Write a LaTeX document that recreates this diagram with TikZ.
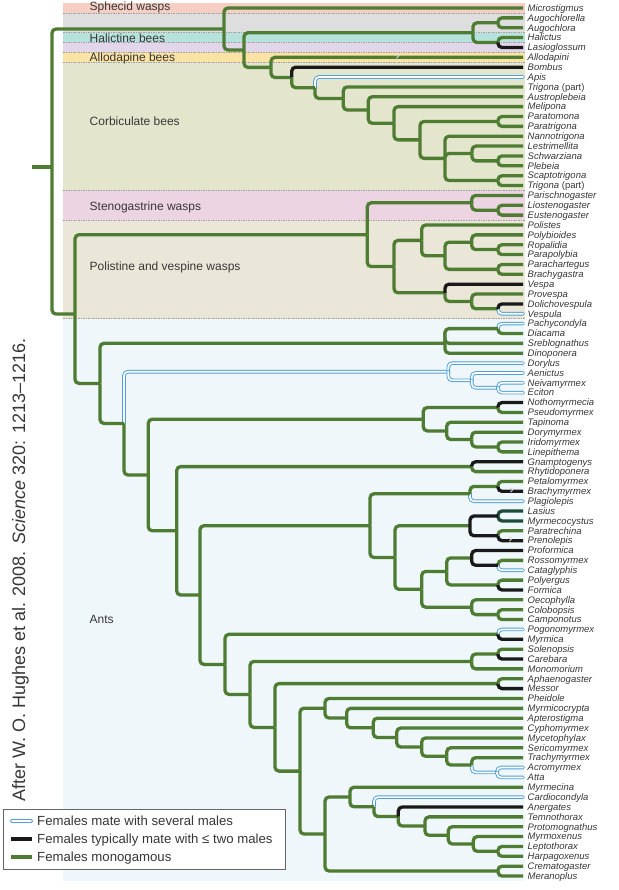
\documentclass[tikz,border=0pt]{standalone}
\usepackage{fontspec}
\setmainfont{Liberation Sans}
\definecolor{grn}{RGB}{78,124,50}
\definecolor{blk}{RGB}{25,25,25}
\definecolor{dgrn}{RGB}{30,75,55}
\definecolor{blu}{RGB}{80,160,215}
\definecolor{txt}{RGB}{55,55,55}
\definecolor{bSph}{RGB}{247,206,196}
\definecolor{bGry}{RGB}{222,222,222}
\definecolor{bHal}{RGB}{182,226,220}
\definecolor{bPur}{RGB}{226,214,234}
\definecolor{bAll}{RGB}{251,226,165}
\definecolor{bCor}{RGB}{227,230,204}
\definecolor{bSte}{RGB}{236,212,226}
\definecolor{bPol}{RGB}{235,231,216}
\definecolor{bAnt}{RGB}{239,247,251}
\begin{document}
\begin{tikzpicture}[x=1pt,y=-1pt,
  br/.style={line width=3.3pt, rounded corners=4pt},
  gb/.style={br, draw=grn},
  kb/.style={br, draw=blk},
  db/.style={br, draw=dgrn},
  ub/.style={draw=blu, line width=0.95pt, double=white, double distance=1.7pt, rounded corners=4pt, line cap=round},
  leaf/.style={anchor=base west, inner sep=0pt, text=txt, font=\fontsize{9.5}{10}\selectfont\itshape},
  grp/.style={anchor=base west, inner sep=0pt, text=txt, font=\fontsize{12}{14}\selectfont},
  sepline/.style={draw=gray!75, dash pattern=on 1.5pt off 1pt, line width=0.55pt},
  qm/.style={inner sep=0pt, text=gray!25, font=\fontsize{9}{9}\selectfont\bfseries},
  legtext/.style={anchor=base west, inner sep=0pt, text=txt, font=\fontsize{13.2}{15}\selectfont},
]
\useasboundingbox (0,0) rectangle (618,890);
% background bands
\fill[bSph] (63,3.07) rectangle (525,12.95);
\fill[bGry] (63,12.95) rectangle (525,32.6);
\fill[bHal] (63,32.6) rectangle (525,42.5);
\fill[bPur] (63,42.5) rectangle (525,52.4);
\fill[bAll] (63,52.4) rectangle (525,62.2);
\fill[bCor] (63,62.2) rectangle (525,190.5);
\fill[bSte] (63,190.5) rectangle (525,220.0);
\fill[bPol] (63,220.0) rectangle (525,318.7);
\fill[bAnt] (63,318.7) rectangle (525,880.8);
\foreach \yy in {12.95,32.6,42.5,52.4,62.2,190.5,220.0,318.7}
  \draw[sepline] (63,\yy) -- (525,\yy);
% group labels
\node[grp] (gSph) at (89.5,11) {Sphecid wasps};
\node[grp] (gHal) at (89.5,42.5) {Halictine bees};
\node[grp] (gAll) at (89.5,61.3) {Allodapine bees};
\node[grp] (gCor) at (89.5,126) {Corbiculate bees};
\node[grp] (gSte) at (89.5,210.3) {Stenogastrine wasps};
\node[grp] (gPol) at (89.5,270.3) {Polistine and vespine wasps};
\node[grp] (gAnt) at (89.5,623.3) {Ants};
% leaves
\foreach \i/\t in {1/Microstigmus, 2/Augochlorella, 3/Augochlora, 4/Halictus, 5/Lasioglossum, 6/Allodapini, 7/Bombus, 8/Apis, 9/{Trigona \textup{(part)}}, 10/Austroplebeia, 11/Melipona, 12/Paratomona, 13/Paratrigona, 14/Nannotrigona, 15/Lestrimellita, 16/Schwarziana, 17/Plebeia, 18/Scaptotrigona, 19/{Trigona \textup{(part)}}, 20/Parischnogaster, 21/Liostenogaster, 22/Eustenogaster, 23/Polistes, 24/Polybioides, 25/Ropalidia, 26/Parapolybia, 27/Parachartegus, 28/Brachygastra, 29/Vespa, 30/Provespa, 31/Dolichovespula, 32/Vespula, 33/Pachycondyla, 34/Diacama, 35/Sreblognathus, 36/Dinoponera, 37/Dorylus, 38/Aenictus, 39/Neivamyrmex, 40/Eciton, 41/Nothomyrmecia, 42/Pseudomyrmex, 43/Tapinoma, 44/Dorymyrmex, 45/Iridomyrmex, 46/Linepithema, 47/Gnamptogenys, 48/Rhytidoponera, 49/Petalomyrmex, 50/Brachymyrmex, 51/Plagiolepis, 52/Lasius, 53/Myrmecocystus, 54/Paratrechina, 55/Prenolepis, 56/Proformica, 57/Rossomyrmex, 58/Cataglyphis, 59/Polyergus, 60/Formica, 61/Oecophylla, 62/Colobopsis, 63/Camponotus, 64/Pogonomyrmex, 65/Myrmica, 66/Solenopsis, 67/Carebara, 68/Monomorium, 69/Aphaenogaster, 70/Messor, 71/Pheidole, 72/Myrmicocrypta, 73/Apterostigma, 74/Cyphomyrmex, 75/Mycetophylax, 76/Sericomyrmex, 77/Trachymyrmex, 78/Acromyrmex, 79/Atta, 80/Myrmecina, 81/Cardiocondyla, 82/Anergates, 83/Temnothorax, 84/Protomognathus, 85/Myrmoxenus, 86/Leptothorax, 87/Harpagoxenus, 88/Crematogaster, 89/Meranoplus}{
  \pgfmathsetmacro{\yy}{8+(\i-1)*9.864}
  \coordinate (L\i) at (523,\yy);
  \node[leaf] (T\i) at (527.5,\yy+3.3) {\t};
}
% internal nodes
\coordinate (st) at (32,167);
\coordinate (root) at (52,167);
\coordinate (A) at (224,29);
\coordinate (B) at (244,50);
\coordinate (H) at (473,32.7);
\coordinate (Hau) at (498,22.8);
\coordinate (Hhl) at (498,42.5);
\coordinate (C) at (271,67.4);
\coordinate (D) at (291.7,77.5);
\coordinate (E) at (315,87.7);
\coordinate (F) at (343.3,98.5);
\coordinate (G) at (368.3,110);
\coordinate (H2) at (394,123.3);
\coordinate (I) at (420,139.9);
\coordinate (Ptr) at (498,121.5);
\coordinate (J) at (445,158.4);
\coordinate (K) at (472,153.5);
\coordinate (Sp) at (498,160.9);
\coordinate (Sct) at (498,180.6);
\coordinate (W) at (75,314);
\coordinate (V) at (367.3,234.7);
\coordinate (St) at (471.7,202.8);
\coordinate (Lie) at (498,210.2);
\coordinate (PV) at (394,266.6);
\coordinate (Po) at (421.7,240.4);
\coordinate (Po2) at (445,255.8);
\coordinate (Po3) at (471.7,242.2);
\coordinate (RP) at (498,249.6);
\coordinate (PB) at (498,269.4);
\coordinate (Ve) at (445,292.8);
\coordinate (Ve2) at (471.7,301.4);
\coordinate (DV) at (498,308.8);
\coordinate (Ants1) at (100,383.4);
\coordinate (Pon) at (445,343.3);
\coordinate (PD) at (498,328.6);
\coordinate (Ants2) at (124,423.4);
\coordinate (Arm) at (448.3,371.7);
\coordinate (Arm2) at (471.7,380.3);
\coordinate (NE) at (498,387.7);
\coordinate (Ants3) at (148.3,475);
\coordinate (Do) at (423.3,419.2);
\coordinate (NP) at (498,407.5);
\coordinate (Do2) at (446.7,430.9);
\coordinate (Do3) at (471.7,439.5);
\coordinate (IL) at (498,446.9);
\coordinate (Ants4) at (176.7,530.8);
\coordinate (GR) at (471.7,466.6);
\coordinate (Ants5) at (200,595);
\coordinate (Fo) at (370,525.7);
\coordinate (Pl) at (470,493.8);
\coordinate (PB2) at (498,486.4);
\coordinate (Fo2) at (395,557.5);
\coordinate (La) at (470,525.8);
\coordinate (LM) at (498,516);
\coordinate (PP) at (498,535.7);
\coordinate (Fo3) at (421.7,589.3);
\coordinate (Fm) at (446.7,571.4);
\coordinate (Pf) at (471.7,557.9);
\coordinate (RC) at (498,565.3);
\coordinate (PF) at (498,585);
\coordinate (Cm) at (471.7,607.2);
\coordinate (CC) at (498,614.6);
\coordinate (My) at (225,664.4);
\coordinate (PM) at (498,634.3);
\coordinate (My2) at (250,694.4);
\coordinate (SC) at (471.7,661.4);
\coordinate (SCa) at (498,654);
\coordinate (My3) at (275,727.4);
\coordinate (AM) at (498,683.6);
\coordinate (My4) at (300,771.1);
\coordinate (At1) at (325,708.2);
\coordinate (At2) at (346.7,718);
\coordinate (At3) at (373.3,727.8);
\coordinate (At4) at (396.7,737.5);
\coordinate (At5) at (421.7,747);
\coordinate (At6) at (446.7,756.3);
\coordinate (At7) at (471.7,765);
\coordinate (AA) at (497,772.4);
\coordinate (Cr1) at (325,834);
\coordinate (CM) at (498,871);
\coordinate (Fx1) at (350,797);
\coordinate (Fx2) at (374,806.8);
\coordinate (Fx3) at (398.3,816.5);
\coordinate (Fx4) at (425,826);
\coordinate (Fx5) at (448.3,835.3);
\coordinate (Fx6) at (473.3,843.9);
\coordinate (LH) at (498,851.3);
% blue branches (several males)
\foreach \p/\c in {E/L8, DV/L32, PD/L33, Ants2/Arm, Arm/L37, Arm/Arm2, Arm2/L38, Arm2/NE, NE/L39, NE/L40, Pl/L51, RC/L58, PM/L64, At7/AA, AA/L78, AA/L79, Fx2/L81}
  \draw[ub] (\p) |- (\c);
% green branches (monogamous)
\draw[gb] (st) -- (root);
\foreach \p/\c in {root/A, root/W, A/L1, A/B, B/H, B/C, H/Hau, H/Hhl, Hau/L2, Hau/L3, Hhl/L4, C/L6, C/D, D/E, E/F, F/L9, F/G, G/L10, G/H2, H2/L11, H2/I, I/Ptr, I/J, Ptr/L12, Ptr/L13, J/L14, J/K, J/Sct, K/L15, K/Sp, Sp/L16, Sp/L17, Sct/L18, Sct/L19, W/V, W/Ants1, V/St, V/PV, St/L20, St/Lie, Lie/L21, Lie/L22, PV/Po, PV/Ve, Po/L23, Po/Po2, Po2/Po3, Po2/PB, Po3/L24, Po3/RP, RP/L25, RP/L26, PB/L27, PB/L28, Ve/Ve2, Ve2/L30, Ve2/DV, Ants1/Pon, Ants1/Ants2, Pon/PD, Pon/L35, Pon/L36, PD/L34, Ants2/Ants3, Ants3/Do, Ants3/Ants4, Do/NP, Do/Do2, NP/L42, Do2/L43, Do2/Do3, Do3/L44, Do3/IL, IL/L45, IL/L46, Ants4/GR, Ants4/Ants5, GR/L48, Ants5/Fo, Ants5/My, Fo/Pl, Fo/Fo2, Pl/PB2, PB2/L49, Fo2/La, Fo2/Fo3, PP/L54, Fo3/Fm, Fo3/Cm, Fm/Pf, Fm/PF, RC/L57, PF/L59, Cm/L61, Cm/CC, CC/L62, CC/L63, My/PM, My/My2, My2/SC, My2/My3, SC/SCa, SC/L68, SCa/L66, My3/AM, My3/My4, AM/L69, My4/At1, My4/Cr1, At1/L71, At1/At2, At2/L72, At2/At3, At3/L73, At3/At4, At4/L74, At4/At5, At5/L75, At5/At6, At6/L76, At6/At7, At7/L77, Cr1/Fx1, Cr1/CM, CM/L88, CM/L89, Fx1/L80, Fx1/Fx2, Fx2/Fx3, Fx3/Fx4, Fx4/L83, Fx4/Fx5, Fx5/L84, Fx5/Fx6, Fx6/L85, Fx6/LH, LH/L86, LH/L87}
  \draw[gb] (\p) |- (\c);
% dark green
\foreach \p/\c in {LM/L52, LM/L53}
  \draw[db] (\p) |- (\c);
% black branches
\foreach \p/\c in {Hhl/L5, D/L7, Ve/L29, DV/L31, NP/L41, GR/L47, PB2/L50, La/LM, La/PP, PP/L55, Pf/L56, Pf/RC, PF/L60, PM/L65, SCa/L67, AM/L70, Fx3/L82}
  \draw[kb] (\p) |- (\c);
% question marks
\node[qm] (q1) at (397,57.3) {?};
\node[qm] (q2) at (511,491) {?};
\node[qm] (q3) at (510,540.5) {?};
% citation
\node[rotate=90, anchor=base west, inner sep=0pt, text=txt, font=\fontsize{18}{20}\selectfont] (cite) at (25,802) {After W. O. Hughes et al. 2008. \textit{Science} 320: 1213–1216.};
% legend
\draw[fill=white, draw=black!60, line width=0.8pt] (3,809) rectangle (285,869);
\coordinate (s1a) at (12,821); \coordinate (s1b) at (31,821);
\coordinate (s2a) at (11,839); \coordinate (s2b) at (32,839);
\coordinate (s3a) at (11,857); \coordinate (s3b) at (32,857);
\draw[ub] (s1a) -- (s1b);
\draw[kb, line width=3.5pt] (s2a) -- (s2b);
\draw[gb, line width=3.5pt] (s3a) -- (s3b);
\node[legtext] (lg1) at (37,825.8) {Females mate with several males};
\node[legtext] (lg2) at (37,843.8) {Females typically mate with ≤ two males};
\node[legtext] (lg3) at (37,861.8) {Females monogamous};
\end{tikzpicture}
\end{document}
